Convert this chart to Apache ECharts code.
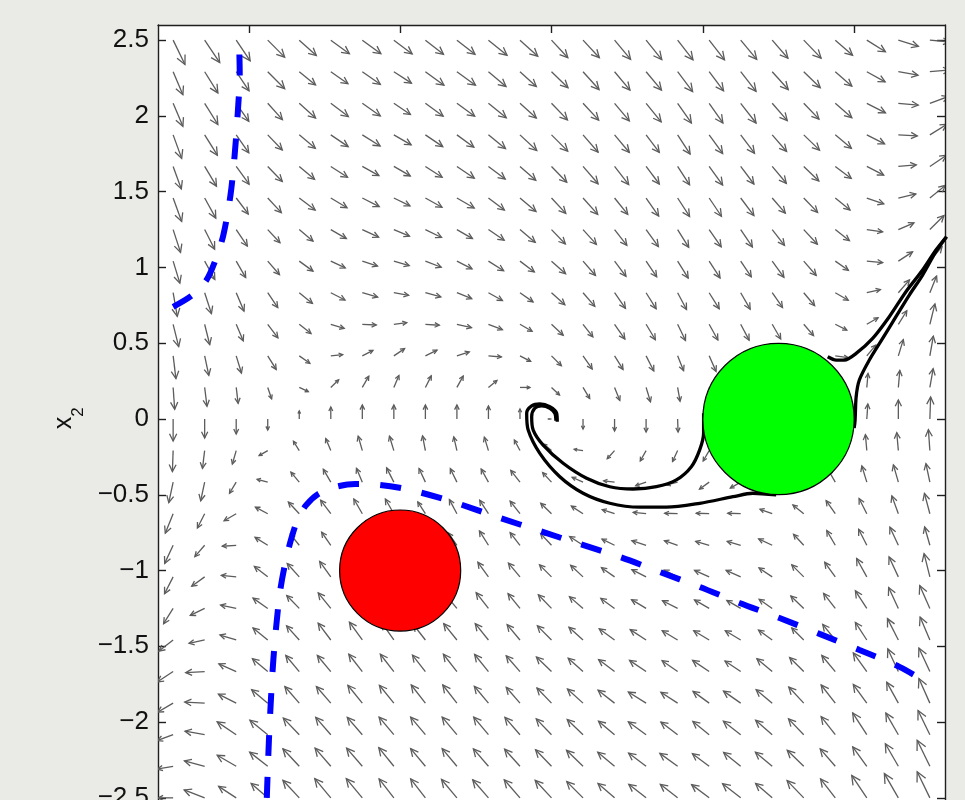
<!DOCTYPE html>
<html>
<head>
<meta charset="utf-8">
<title>Phase portrait</title>
<script src="https://cdn.jsdelivr.net/npm/echarts@6/dist/echarts.min.js"></script>
<style>
  html, body { margin: 0; padding: 0; background: #eaeae6; }
  #chart { width: 965px; height: 800px; }
</style>
</head>
<body>
<div id="chart"></div>
<script>
// quiver grid (x1 columns left->right, x2 rows top->bottom)
var gridX = [-2.5, -2.2917, -2.0833, -1.875, -1.6667, -1.4583, -1.25, -1.0417, -0.8333, -0.625, -0.4167, -0.2083, 0,
  0.2083, 0.4167, 0.625, 0.8333, 1.0417, 1.25, 1.4583, 1.6667, 1.875, 2.0833, 2.2917, 2.5];
var gridY = [2.5, 2.2917, 2.0833, 1.875, 1.6667, 1.4583, 1.25, 1.0417, 0.8333, 0.625, 0.4167, 0.2083, 0,
  -0.2083, -0.4167, -0.625, -0.8333, -1.0417, -1.25, -1.4583, -1.6667, -1.875, -2.0833, -2.2917, -2.5];

// arrow direction in degrees, read per grid point (null = hidden under a disk)
var arrowAngle = [
  [-64,-56,-56,-45,-42,-36,-36,-37,-38,-38,-39,-42,-47,-47,-50,-51,-52,-52,-50,-49,-46,-41,-32,-17,-5],
  [-67,-58,-56,-45,-39,-35,-35,-33,-36,-36,-40,-42,-44,-48,-50,-50,-53,-53,-52,-48,-44,-41,-29,-10,5],
  [-67,-58,-55,-48,-42,-37,-35,-34,-36,-36,-39,-42,-46,-47,-50,-51,-55,-55,-52,-49,-46,-41,-27,-5,20],
  [-70,-58,-55,-46,-40,-34,-32,-30,-34,-36,-39,-43,-45,-49,-50,-53,-57,-54,-53,-49,-44,-40,-27,-3,32],
  [-70,-59,-54,-46,-40,-33,-29,-30,-33,-34,-37,-41,-46,-49,-52,-53,-57,-54,-53,-50,-44,-37,-27,5,34],
  [-70,-61,-53,-47,-37,-31,-27,-26,-29,-30,-37,-40,-47,-48,-51,-55,-57,-56,-53,-49,-46,-39,-19,13,39],
  [-72,-63,-56,-47,-40,-30,-25,-23,-26,-30,-34,-40,-46,-48,-52,-54,-58,-55,-56,-52,-47,-38,-8,23,45],
  [-73,-61,-60,-49,-36,-25,-18,-16,-21,-27,-32,-37,-42,-49,-53,-56,-58,-57,-56,-54,-49,-35,-5,33,50],
  [-80,-72,-67,-56,-39,-27,-16,-10,-15,-22,-29,-35,-42,-49,-55,-58,-62,-58,-60,-55,-50,-30,13,49,68],
  [-76,-76,-67,-53,-38,-17,-3,7,-4,-13,-21,-30,-43,-52,-55,-59,-64,-61,-62,-60,-49,-27,30,58,76],
  [-83,-78,-73,-58,-35,6,27,34,26,18,-5,-27,-45,-55,-58,-63,-68,-66,null,null,null,-8,50,73,80],
  [-86,-83,-83,-71,-25,44,60,67,63,61,39,0,-43,-59,-68,-73,-80,-80,null,null,null,null,85,85,80],
  [-90,-90,-90,-90,90,90,90,90,90,90,90,90,180,-90,-90,-90,-88,null,null,null,null,null,86,90,88],
  [-92,-97,-106,-150,122,113,106,107,101,103,107,118,140,172,-132,-119,-115,-120,null,null,null,null,95,95,94],
  [-102,-102,-121,165,130,120,113,117,115,116,119,128,133,156,173,-161,-165,-144,-150,null,null,120,107,106,102],
  [-112,-117,-150,152,133,127,120,120,123,118,123,128,136,147,162,174,178,178,178,160,141,125,117,110,105],
  [-115,-131,-176,148,129,125,null,null,null,125,122,128,133,147,154,162,161,164,164,155,133,120,117,115,106],
  [-117,-144,174,142,132,126,null,null,null,null,126,130,135,137,145,153,153,156,156,146,135,126,119,115,104],
  [-122,-154,168,145,134,129,null,null,null,130,128,129,134,139,144,149,153,150,150,145,136,128,123,115,114],
  [-142,-168,163,141,132,127,126,125,128,129,129,130,135,138,144,147,149,149,149,144,135,129,123,117,113],
  [-147,-177,156,140,130,130,128,128,128,128,129,131,136,138,143,146,145,146,146,140,135,130,126,115,115],
  [-150,177,153,140,131,131,129,129,128,128,130,131,134,138,142,148,147,144,145,140,133,128,126,119,114],
  [-160,170,146,141,134,131,131,130,130,130,130,131,134,136,140,144,143,141,142,139,134,128,123,120,116],
  [-170,165,150,142,133,131,131,129,130,130,131,132,134,136,140,143,144,143,141,140,136,131,126,120,116],
  [180,159,147,139,133,130,130,128,128,130,131,131,133,135,139,142,142,143,142,139,134,128,124,120,116]
];

// arrow magnitude per grid point (quiver units)
var arrowSpeed = [
  [27,27,25,24,23,23,23,23,23,23,24,24,24,24,25,25,25,25,25,24,25,23,22,21,20],
  [25,25,23,24,21,21,22,21,23,23,23,22,23,24,24,24,25,24,25,24,23,22,21,20,20],
  [25,25,22,22,22,22,22,20,22,22,23,22,23,23,23,24,24,24,25,23,22,22,21,20,20],
  [25,24,22,21,21,21,21,20,21,21,22,23,23,23,23,22,23,23,23,22,22,21,20,19,20],
  [24,23,22,21,20,20,19,19,20,21,21,21,22,23,23,22,22,23,22,22,21,20,19,18,20],
  [25,23,20,20,20,19,19,18,19,20,20,21,21,22,21,22,22,22,22,20,20,19,18,18,20],
  [24,22,20,18,18,18,18,17,18,18,19,20,20,20,20,21,21,21,21,20,20,18,16,17,20],
  [23,21,19,18,17,16,16,16,17,17,18,18,19,19,19,19,20,20,19,20,19,16,16,17,19],
  [24,22,20,18,17,16,16,15,16,16,16,16,18,18,19,19,19,19,19,18,17,15,14,17,18],
  [23,21,18,17,15,14,14,13,14,15,15,14,16,16,18,18,18,18,18,17,15,13,13,16,21],
  [23,20,18,16,13,12,12,13,13,13,13,12,14,16,16,17,16,17,null,null,null,13,14,17,20],
  [22,19,16,12,10,11,13,13,13,13,11,10,11,13,14,15,14,14,null,null,null,null,14,17,19],
  [22,19,15,11,8,12,14,14,14,14,13,10,3,10,12,13,13,null,null,null,null,null,15,19,22],
  [21,18,14,10,11,13,15,15,15,14,14,12,10,9,11,12,12,12,null,null,null,null,16,18,21],
  [21,19,13,11,13,15,15,16,15,15,15,15,13,12,11,11,11,12,12,null,null,14,17,18,19],
  [21,16,14,14,16,17,17,17,14,16,16,16,15,14,13,13,13,13,13,13,14,16,17,19,21],
  [20,15,14,15,14,16,null,null,null,15,17,16,16,16,14,15,14,14,14,15,15,17,18,20,19],
  [19,16,15,17,18,19,null,null,null,null,18,18,17,17,16,16,15,16,16,16,17,18,21,22,24],
  [18,16,16,18,18,20,null,null,null,19,20,19,19,18,17,17,17,17,16,16,18,19,21,23,25],
  [18,16,17,19,19,21,22,21,19,21,21,20,20,19,19,19,18,18,18,17,17,20,21,24,25],
  [19,19,19,20,21,21,22,22,21,22,22,21,21,20,20,20,19,20,19,20,20,21,23,25,26],
  [18,20,20,21,22,22,23,23,23,23,22,21,21,21,21,21,20,20,21,21,22,23,23,24,27],
  [17,20,23,23,23,23,23,23,23,23,23,23,22,22,21,22,21,21,22,22,22,23,26,25,27],
  [16,21,22,23,24,24,24,24,23,23,23,23,23,23,22,22,22,21,22,22,23,23,24,26,29],
  [15,22,21,22,24,25,25,24,24,24,24,24,24,23,22,22,22,22,23,22,24,24,27,28,29]
];
var QUIVER_SCALE = 1 / 151.6; // magnitude -> data units

var xTicks = [-2, -1, 0, 1, 2];
var yTicks = [-2.5, -2, -1.5, -1, -0.5, 0, 0.5, 1, 1.5, 2, 2.5];

// disks: [centre x1, centre x2, radius]
var goalDisk = [1.5, 0, 0.5];
var obstacleDisk = [-1, -1, 0.4];

// dashed boundaries
var boundaryUpper = [[-2.5,0.74],[-2.372,0.818],[-2.28,0.917],[-2.22,1.05],[-2.168,1.214],[-2.121,1.478],
  [-2.093,1.748],[-2.073,2.02],[-2.06,2.28],[-2.065,2.5]];
var boundaryLower = [[-1.881,-2.5],[-1.877,-2.381],[-1.867,-2.117],[-1.854,-1.854],[-1.838,-1.59],[-1.818,-1.359],
  [-1.792,-1.128],[-1.752,-0.917],[-1.712,-0.765],[-1.673,-0.653],[-1.62,-0.567],[-1.541,-0.495],[-1.429,-0.449],
  [-1.297,-0.429],[-1.132,-0.435],[-0.934,-0.468],[-0.67,-0.541],[-0.34,-0.653],[-0.077,-0.739],[0.187,-0.825],
  [0.451,-0.91],[0.715,-1.009],[0.979,-1.108],[1.243,-1.214],[1.507,-1.313],[1.771,-1.418],[2.035,-1.524],
  [2.299,-1.636],[2.49,-1.745]];

// trajectories (part before and after the goal disk)
var trajAIn = [[2.61,1.203],[2.54,1.115],[2.452,0.983],[2.342,0.84],[2.232,0.675],[2.122,0.532],[2.013,0.433],
  [1.935,0.389],[1.881,0.389],[1.825,0.411]];
var trajAOut = [[1.005,0.038],[1.005,-0.092],[0.979,-0.204],[0.924,-0.315],[0.825,-0.402],[0.693,-0.447],
  [0.539,-0.462],[0.385,-0.447],[0.232,-0.391],[0.077,-0.292],[-0.055,-0.172],[-0.121,-0.073],[-0.131,0.015],
  [-0.11,0.071],[-0.065,0.086],[-0.011,0.071],[0.022,0.038],[0.029,-0.011]];
var trajBIn = [[2.61,1.203],[2.54,1.104],[2.452,0.95],[2.364,0.818],[2.276,0.675],[2.188,0.532],[2.1,0.389],
  [2.034,0.257],[2.013,0.147],[2.006,-0.007],[2.0,-0.06]];
var trajBOut = [[1.485,-0.501],[1.33,-0.49],[1.199,-0.513],[0.979,-0.556],[0.759,-0.582],[0.583,-0.582],
  [0.385,-0.556],[0.209,-0.49],[0.055,-0.381],[-0.077,-0.227],[-0.154,-0.073],[-0.164,0.038],[-0.131,0.086],
  [-0.077,0.099],[-0.011,0.081],[0.034,0.038],[0.038,-0.018]];

var quiverData = [];
for (var r = 0; r < gridY.length; r++) {
  for (var c = 0; c < gridX.length; c++) {
    var ang = arrowAngle[r][c], spd = arrowSpeed[r][c];
    if (ang == null || spd == null) continue;
    var len = spd * QUIVER_SCALE, t = ang * Math.PI / 180;
    quiverData.push([gridX[c], gridY[r], len * Math.cos(t), len * Math.sin(t)]);
  }
}

var FONT = '"Liberation Sans", Arial, Helvetica, sans-serif';
var AXIS_COLOR = '#1f1f1f';
var HEAD_A = 0.33, HEAD_B = 0.5;

function tickLabel(v) {
  return (v < 0 ? '\u2212' : '') + Math.abs(v);
}

function renderArrow(params, api) {
  var x = api.value(0), y = api.value(1), u = api.value(2), v = api.value(3);
  var tail = api.coord([x, y]);
  var tip = api.coord([x + u, y + v]);
  var b1 = api.coord([x + u - HEAD_A * (u + HEAD_B * v), y + v - HEAD_A * (v - HEAD_B * u)]);
  var b2 = api.coord([x + u - HEAD_A * (u - HEAD_B * v), y + v - HEAD_A * (v + HEAD_B * u)]);
  var cs = params.coordSys;
  var st = { stroke: '#5c5c5c', lineWidth: 1.3, fill: null };
  return {
    type: 'group',
    clipPath: { type: 'rect', shape: { x: cs.x, y: cs.y, width: cs.width, height: cs.height } },
    children: [
      { type: 'line', shape: { x1: tail[0], y1: tail[1], x2: tip[0], y2: tip[1] }, style: st },
      { type: 'polyline', shape: { points: [b1, tip, b2] }, style: st }
    ]
  };
}

function diskRenderer(color) {
  return function (params, api) {
    var c = api.coord([api.value(0), api.value(1)]);
    var rad = api.size([api.value(2), 0])[0];
    return {
      type: 'circle',
      shape: { cx: c[0], cy: c[1], r: rad },
      style: { fill: color, stroke: '#000', lineWidth: 1.2 }
    };
  };
}

function valueAxis(pos, ticks, showLabel) {
  return {
    type: 'value', position: pos, min: -2.6, max: 2.6,
    axisLine: { show: true, onZero: false, lineStyle: { color: AXIS_COLOR, width: 1.4 } },
    axisTick: { show: true, inside: true, length: 8, customValues: ticks, lineStyle: { color: AXIS_COLOR, width: 1.4 } },
    axisLabel: {
      show: showLabel, customValues: ticks, formatter: tickLabel, margin: 9,
      color: '#111', fontSize: 26, fontFamily: FONT
    },
    splitLine: { show: false }
  };
}

function pathSeries(data, color, width, dash, z) {
  return {
    type: 'line', data: data, showSymbol: false, symbol: 'none', smooth: 0.3, z: z, silent: true,
    lineStyle: { color: color, width: width, type: dash, cap: 'butt' }
  };
}

var chart = echarts.init(document.getElementById('chart'));
chart.setOption({
  animation: false,
  backgroundColor: '#eaeae6',
  grid: {
    left: 158, top: 25, width: 787, height: 788, show: true, backgroundColor: '#fff', borderWidth: 0,
    containLabel: false, outerBoundsMode: 'none'
  },
  xAxis: [valueAxis('bottom', xTicks, true), valueAxis('top', xTicks, false)],
  yAxis: [valueAxis('left', yTicks, true), valueAxis('right', yTicks, false)],
  graphic: [{
    type: 'group', x: 64, y: 423, rotation: Math.PI / 2,
    children: [
      { type: 'text', x: 0, y: 0, style: { text: 'x', fontSize: 25, fontFamily: FONT, fill: '#111', textAlign: 'center', textVerticalAlign: 'middle' } },
      { type: 'text', x: 11, y: 14, style: { text: '2', fontSize: 17, fontFamily: FONT, fill: '#111', textAlign: 'center', textVerticalAlign: 'middle' } }
    ]
  }],
  series: [
    { type: 'custom', renderItem: renderArrow, data: quiverData, z: 2, silent: true },
    pathSeries(boundaryUpper, '#0000ff', 6, [21, 21], 3),
    pathSeries(boundaryLower, '#0000ff', 6, [21, 21], 3),
    pathSeries(trajAIn, '#000', 3.3, 'solid', 4),
    pathSeries(trajAOut, '#000', 3.3, 'solid', 4),
    pathSeries(trajBIn, '#000', 3.3, 'solid', 4),
    pathSeries(trajBOut, '#000', 3.3, 'solid', 4),
    { type: 'custom', renderItem: diskRenderer('#00ff00'), data: [goalDisk], z: 5, silent: true },
    { type: 'custom', renderItem: diskRenderer('#ff0000'), data: [obstacleDisk], z: 5, silent: true }
  ]
});
</script>
</body>
</html>
